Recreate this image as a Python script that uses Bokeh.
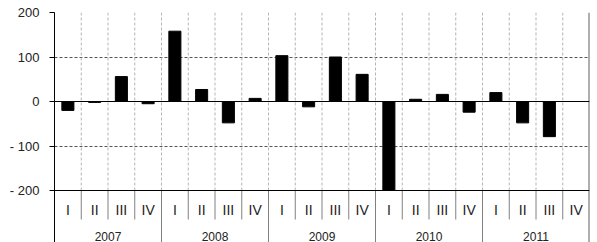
import numpy as np
from bokeh.plotting import figure
from bokeh.models import FixedTicker, Span, Range1d, CustomJSTickFormatter
from bokeh.core.properties import value
from bokeh.embed import file_html
from bokeh.resources import INLINE

# ---- data ----
years = ["2007", "2008", "2009", "2010", "2011"]
quarters = ["I", "II", "III", "IV"]
values = [-20, -2, 56, -5,
          158, 27, -48, 7,
          103, -12, 100, 61,
          -200, 5, 16, -24,
          20, -48, -79, 0]
y_ticks = [-200, -100, 0, 100, 200]

# ---- layout helpers ----
Y_MIN, Y_MAX = -200, 200
PLOT_PX = 178.0                 # pixels between Y_MIN and Y_MAX
u = (Y_MAX - Y_MIN) / PLOT_PX   # data units per pixel
AXIS_PX = 52.0                  # category-axis band below the plot
y_bottom = Y_MIN - AXIS_PX * u

nq = len(quarters)
n = len(years) * nq
x = np.arange(n)
q_text = [quarters[i % nq] for i in range(n)]
year_x = [i * nq + (nq - 1) / 2 for i in range(len(years))]

p = figure(width=597, height=242, output_backend="svg", toolbar_location=None,
           x_range=Range1d(-0.5, n - 0.5), y_range=Range1d(y_bottom, Y_MAX),
           min_border_left=54, min_border_right=8, min_border_top=12,
           min_border_bottom=0, x_axis_location=None)
p.outline_line_color = None
p.background_fill_color = "white"
p.border_fill_color = "white"

# y axis
ax = p.yaxis[0]
ax.ticker = FixedTicker(ticks=y_ticks)
ax.formatter = CustomJSTickFormatter(
    code="return tick < 0 ? '- ' + Math.abs(tick) : String(tick);")
ax.major_tick_in = 0
ax.major_tick_out = 5
ax.minor_tick_line_color = None
ax.axis_line_color = "black"
ax.major_tick_line_color = "black"
ax.major_label_standoff = 10
ax.major_label_text_font = "Liberation Sans"
ax.major_label_text_font_size = "13px"
ax.major_label_text_color = "#222222"

# grids
p.xgrid.visible = False
p.ygrid.ticker = FixedTicker(ticks=[-100, 100, 200])
p.ygrid.grid_line_color = "#555555"
p.ygrid.grid_line_dash = "3 2"
p.ygrid.grid_line_width = 1

bounds = x[:-1] + 0.5
p.segment(x0=bounds, y0=[Y_MIN] * len(bounds), x1=bounds, y1=[Y_MAX] * len(bounds),
          line_color="#b5b5b5", line_dash="3 2", line_width=1)

# category axis separators
p.segment(x0=bounds, y0=[Y_MIN] * len(bounds), x1=bounds,
          y1=[Y_MIN - 29 * u] * len(bounds), line_color="#808080", line_width=1)
ybounds = [i * nq - 0.5 for i in range(1, len(years))]
p.segment(x0=ybounds, y0=[Y_MIN] * len(ybounds), x1=ybounds,
          y1=[y_bottom] * len(ybounds), line_color="#808080", line_width=1)
p.segment(x0=[n - 0.5], y0=[Y_MAX], x1=[n - 0.5], y1=[y_bottom],
          line_color="#606060", line_width=2)

# bars
p.vbar(x=x, top=values, bottom=0, width=0.45, color="black")

p.add_layout(Span(location=0, dimension="width", line_color="black", line_width=1.2))
p.add_layout(Span(location=Y_MIN, dimension="width", line_color="black", line_width=1.2))

# category labels
p.text(x=x, y=[Y_MIN - 19.5 * u] * n, text=q_text, text_align="center",
       text_baseline="middle", text_font=value("Liberation Sans"),
       text_font_size="14px", text_color="#222222")
p.text(x=year_x, y=[Y_MIN - 41 * u] * len(years), text=years, text_align="center",
       text_baseline="top", text_font=value("Liberation Sans"),
       text_font_size="12px", text_color="#222222")

open("out.html", "w").write(file_html(p, INLINE))
